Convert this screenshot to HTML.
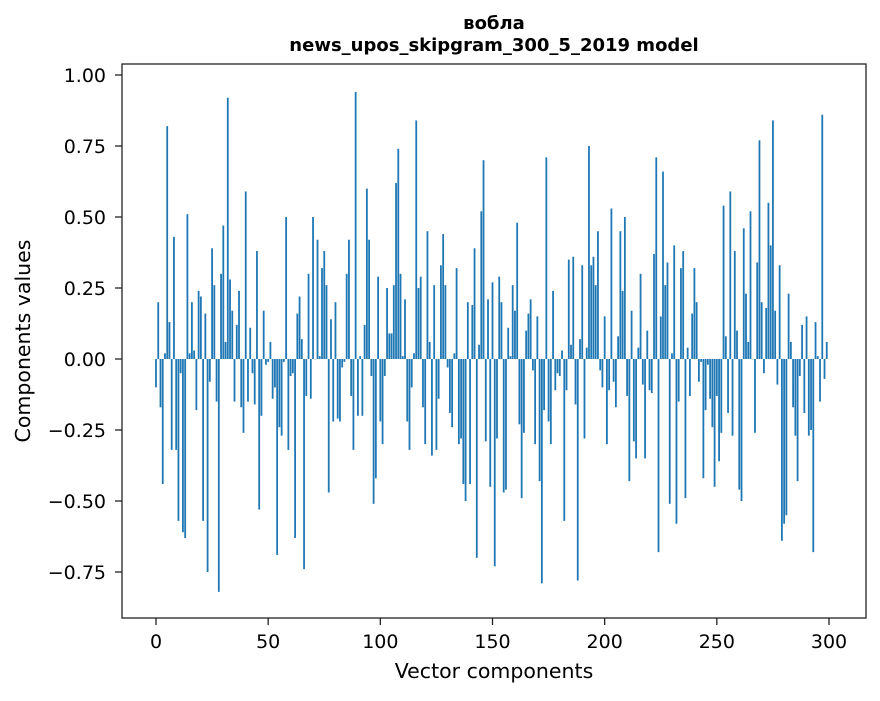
<!DOCTYPE html>
<html><head><meta charset="utf-8"><style>
body{margin:0;background:#fff}
svg{font-family:"DejaVu Sans","Liberation Sans",sans-serif}
</style></head><body>
<svg id="chart" width="880" height="696" viewBox="0 0 880 696" xmlns="http://www.w3.org/2000/svg">
<rect width="880" height="696" fill="#fff"/>
<text x="494" y="29" text-anchor="middle" font-size="18" font-weight="bold">вобла</text>
<text x="494" y="51" text-anchor="middle" font-size="18" font-weight="bold">news_upos_skipgram_300_5_2019 model</text>
<g id="bars"></g>
<g id="axes"></g>
<rect x="122" y="64" width="744" height="554" fill="none" stroke="#222" stroke-width="1.3"/>
<text x="494" y="678" text-anchor="middle" font-size="20.5">Vector components</text>
<text transform="translate(30,341) rotate(-90)" text-anchor="middle" font-size="20.5">Components values</text>
</svg>
<script>
const values = [
-0.10,0.20,-0.17,-0.44,0.02,0.82,0.13,-0.32,0.43,-0.32,-0.57,-0.05,-0.61,-0.63,0.51,0.02,0.20,0.03,-0.18,0.24,0.22,-0.57,0.16,-0.75,-0.08,0.39,0.26,-0.15,-0.82,0.30,0.47,0.06,0.92,0.28,0.17,-0.15,0.12,0.24,-0.17,-0.26,0.59,-0.15,0.11,-0.05,-0.16,0.38,-0.53,-0.20,0.17,-0.02,-0.01,
0.06,-0.14,-0.10,-0.69,-0.24,-0.27,-0.01,0.50,-0.32,-0.06,-0.05,-0.63,0.16,0.22,0.07,-0.74,-0.13,0.30,-0.14,0.50,0.00,0.42,0.01,0.32,0.38,0.26,-0.47,0.14,-0.22,0.20,-0.21,-0.22,-0.03,-0.01,0.30,0.42,-0.13,-0.32,0.94,-0.20,0.01,-0.20,0.12,0.60,0.42,-0.06,-0.51,-0.42,0.29,
-0.22,-0.30,-0.06,0.25,0.09,0.09,0.26,0.62,0.74,0.30,0.01,0.21,-0.22,-0.32,-0.10,0.02,0.84,0.25,0.29,-0.17,-0.30,0.45,0.06,-0.34,0.26,-0.32,-0.14,0.33,0.44,0.26,-0.03,-0.19,-0.24,0.02,0.32,-0.30,-0.28,-0.44,-0.50,0.20,-0.44,0.19,0.39,-0.70,0.05,0.52,0.70,-0.29,0.21,-0.45,
0.27,-0.73,-0.28,0.29,0.20,-0.47,-0.46,0.11,0.01,0.26,0.17,0.48,-0.23,-0.49,-0.26,0.10,0.16,0.21,-0.04,-0.30,0.15,-0.43,-0.79,-0.18,0.71,-0.22,-0.30,0.24,-0.11,-0.05,-0.06,0.03,-0.57,-0.11,0.35,0.05,0.36,-0.16,-0.78,0.07,0.33,-0.28,0.04,0.75,0.33,0.36,
0.26,0.45,-0.04,-0.10,0.15,-0.30,-0.11,0.53,-0.08,-0.17,0.08,0.45,0.24,0.50,-0.13,-0.43,0.17,-0.29,-0.35,0.04,0.30,-0.09,-0.35,0.10,-0.11,-0.12,0.37,0.71,-0.68,0.15,0.66,0.26,0.34,-0.51,0.02,0.40,-0.58,-0.15,0.32,0.38,-0.49,0.04,-0.13,0.16,0.32,0.20,-0.08,-0.01,-0.42,-0.18,-0.02,-0.14,-0.24,-0.45,
-0.13,-0.36,-0.26,0.54,0.08,-0.19,0.59,-0.27,0.38,0.10,-0.46,-0.50,0.46,0.23,0.06,0.52,0.00,-0.26,0.34,0.77,0.20,-0.05,0.18,0.55,0.40,0.84,0.17,-0.09,0.33,-0.64,-0.58,-0.55,0.23,0.06,-0.17,-0.27,-0.43,-0.06,0.12,-0.19,0.15,-0.27,-0.25,-0.68,0.13,0.01,-0.15,0.86,-0.07,0.06
];
const xTicks = [0,50,100,150,200,250,300];
const yTicks = [-0.75,-0.50,-0.25,0.00,0.25,0.50,0.75,1.00];
const yTickLabels = ["\u22120.75","\u22120.50","\u22120.25","0.00","0.25","0.50","0.75","1.00"];

const NS = "http://www.w3.org/2000/svg";
function xScale(i){ return 156 + i * (829 - 156) / 300; }
function yScale(v){ return 359 - v * 284; }
const bw = 0.8 * (829 - 156) / 300;
const bars = document.getElementById('bars');
values.forEach(function(v, i){
  const r = document.createElementNS(NS, 'rect');
  
  
  const y0 = yScale(0), y1 = yScale(v);
  r.setAttribute('x', xScale(i) - bw/2);
  r.setAttribute('y', Math.min(y0, y1));
  r.setAttribute('width', bw);
  r.setAttribute('height', Math.max(Math.abs(y1 - y0), 0.3));
  r.setAttribute('fill', '#1f77b4');
  bars.appendChild(r);
});
const axes = document.getElementById('axes');
xTicks.forEach(function(t){
  const x = xScale(t);
  const l = document.createElementNS(NS, 'line');
  
  
  l.setAttribute('x1', x); l.setAttribute('x2', x);
  l.setAttribute('y1', 618); l.setAttribute('y2', 625);
  l.setAttribute('stroke', '#222');
  l.setAttribute('stroke-width', '1.3');
  axes.appendChild(l);
  const tx = document.createElementNS(NS, 'text');
  
  
  tx.setAttribute('x', x); tx.setAttribute('y', 648);
  tx.setAttribute('text-anchor', 'middle');
  tx.setAttribute('font-size', '19');
  tx.textContent = String(t);
  axes.appendChild(tx);
});
yTicks.forEach(function(t, k){
  const y = yScale(t);
  const l = document.createElementNS(NS, 'line');
  
  
  l.setAttribute('x1', 115); l.setAttribute('x2', 122);
  l.setAttribute('y1', y); l.setAttribute('y2', y);
  l.setAttribute('stroke', '#222');
  l.setAttribute('stroke-width', '1.3');
  axes.appendChild(l);
  const tx = document.createElementNS(NS, 'text');
  
  
  tx.setAttribute('x', 106); tx.setAttribute('y', y + 7);
  tx.setAttribute('text-anchor', 'end');
  tx.setAttribute('font-size', '19');
  tx.textContent = yTickLabels[k];
  axes.appendChild(tx);
});
</script>
</body></html>
